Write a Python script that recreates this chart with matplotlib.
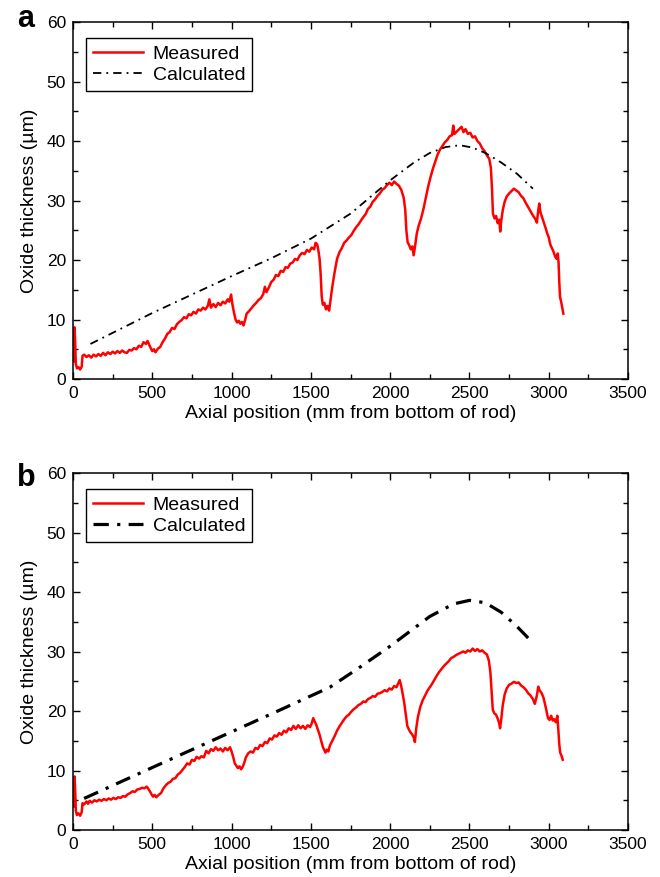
import numpy as np
import matplotlib.pyplot as plt
from matplotlib.ticker import MultipleLocator

plt.rcParams['font.family'] = ['Liberation Sans', 'DejaVu Sans']

# --- rod a: measured oxide profile (axial position mm, thickness um) ---
meas_a = [
    (5, 3.0), (10, 8.7), (14, 6.0), (18, 2.5), (25, 1.8), (35, 2.0), (45, 1.6), (55, 2.1),
    (60, 3.9), (70, 4.1), (85, 3.7), (100, 4.0), (115, 3.6), (130, 4.1), (145, 3.8), (160, 4.2),
    (175, 3.9), (190, 4.4), (205, 4.0), (220, 4.5), (235, 4.2), (250, 4.6), (265, 4.3), (280, 4.7),
    (295, 4.4), (310, 4.8), (325, 4.5), (340, 4.4), (355, 4.9), (370, 4.8), (385, 5.2), (400, 5.0),
    (415, 5.6), (430, 5.4), (445, 6.2), (460, 5.9), (470, 6.4), (480, 5.8), (490, 5.2), (500, 4.7),
    (510, 5.0), (520, 4.5), (535, 5.1), (550, 5.4), (565, 6.2), (580, 6.8), (595, 7.6), (610, 7.9),
    (625, 8.6), (640, 8.4), (655, 9.2), (670, 9.6), (685, 9.9), (700, 10.4), (715, 10.2), (730, 10.9),
    (745, 10.7), (760, 11.3), (775, 11.0), (790, 11.7), (805, 11.5), (820, 12.0), (835, 11.7), (850, 12.3),
    (860, 13.4), (870, 12.0), (885, 12.6), (900, 12.1), (915, 12.8), (930, 12.4), (945, 13.0), (960, 12.7),
    (975, 13.4), (985, 13.0), (997, 14.2), (1005, 12.6), (1015, 11.2), (1025, 10.0), (1035, 9.5), (1045, 9.8),
    (1055, 9.3), (1065, 9.6), (1075, 9.0), (1085, 9.9), (1095, 11.0), (1110, 11.4), (1125, 11.9), (1140, 12.4),
    (1155, 12.8), (1170, 13.3), (1185, 13.6), (1200, 14.3), (1210, 15.5), (1220, 14.6), (1235, 15.4), (1250, 16.3),
    (1265, 16.7), (1280, 17.5), (1295, 17.3), (1310, 18.2), (1325, 18.0), (1340, 18.8), (1355, 18.7), (1370, 19.4),
    (1385, 19.6), (1400, 20.2), (1415, 20.0), (1430, 20.8), (1445, 21.2), (1460, 21.0), (1475, 21.7), (1490, 21.4),
    (1505, 22.1), (1520, 21.8), (1530, 22.9), (1540, 22.6), (1548, 21.5), (1555, 20.2), (1562, 17.5), (1568, 14.0),
    (1575, 12.5), (1585, 12.8), (1595, 11.7), (1605, 12.3), (1615, 11.5), (1625, 13.5), (1635, 15.5), (1650, 18.0),
    (1665, 20.2), (1680, 21.3), (1695, 22.0), (1710, 22.9), (1725, 23.3), (1740, 23.8), (1755, 24.2), (1770, 24.9),
    (1785, 25.5), (1800, 26.0), (1815, 26.6), (1830, 27.2), (1845, 27.7), (1860, 28.6), (1875, 29.0), (1890, 29.8),
    (1905, 30.2), (1920, 30.8), (1935, 31.2), (1950, 31.8), (1965, 32.1), (1980, 32.6), (1995, 33.0), (2010, 32.6),
    (2025, 33.2), (2040, 32.8), (2055, 32.5), (2070, 31.8), (2085, 30.5), (2095, 28.5), (2102, 25.0), (2110, 23.0),
    (2120, 22.5), (2130, 21.8), (2140, 22.3), (2148, 20.8), (2158, 22.5), (2168, 24.5), (2180, 25.8), (2195, 27.0),
    (2210, 28.6), (2225, 30.5), (2240, 32.4), (2255, 34.0), (2270, 35.4), (2285, 36.6), (2300, 37.8), (2315, 38.6),
    (2330, 39.2), (2345, 39.8), (2360, 40.2), (2375, 40.8), (2390, 41.0), (2398, 42.6), (2405, 41.2), (2420, 41.6),
    (2435, 42.0), (2450, 42.4), (2462, 41.5), (2475, 42.0), (2490, 41.2), (2505, 41.4), (2520, 40.6), (2535, 40.8),
    (2550, 40.0), (2565, 39.6), (2580, 38.8), (2595, 38.3), (2610, 37.6), (2625, 37.0), (2635, 35.5), (2642, 32.0),
    (2648, 27.8), (2658, 27.0), (2668, 27.4), (2678, 26.2), (2688, 26.8), (2694, 24.8), (2700, 26.5), (2710, 28.4),
    (2722, 29.8), (2735, 30.7), (2750, 31.2), (2765, 31.6), (2780, 32.0), (2795, 31.7), (2810, 31.4), (2825, 30.8),
    (2840, 30.4), (2855, 29.6), (2870, 28.9), (2885, 28.2), (2900, 27.5), (2915, 26.9), (2925, 26.3), (2933, 28.2),
    (2940, 29.5), (2948, 28.0), (2958, 27.2), (2970, 26.2), (2980, 25.4), (2990, 24.5), (3000, 23.8), (3010, 22.6),
    (3020, 22.0), (3030, 21.4), (3040, 20.6), (3050, 20.2), (3057, 21.1), (3062, 19.5), (3066, 16.5), (3071, 13.8),
    (3078, 13.0), (3085, 12.0), (3092, 11.0),
]

calc_a = [
    (110, 5.9), (500, 11.1), (1000, 17.3), (1250, 20.3), (1500, 23.6), (1750, 27.8), (2000, 33.4),
    (2150, 36.4), (2250, 38.0), (2350, 39.0), (2440, 39.3), (2520, 38.9), (2600, 38.0), (2700, 36.4),
    (2800, 34.5), (2900, 32.0),
]

# --- rod b ---
meas_b = [
    (5, 4.0), (10, 9.0), (14, 6.5), (18, 3.2), (25, 2.5), (35, 2.8), (45, 2.4), (55, 3.0),
    (60, 4.5), (70, 4.3), (85, 4.8), (95, 4.4), (105, 4.9), (120, 4.6), (135, 5.0), (150, 4.8),
    (165, 5.1), (180, 4.9), (195, 5.2), (210, 5.0), (225, 5.3), (240, 5.1), (255, 5.4), (270, 5.2),
    (285, 5.5), (300, 5.4), (315, 5.7), (330, 5.6), (345, 6.0), (360, 6.2), (375, 6.5), (390, 6.4),
    (405, 6.8), (420, 6.9), (435, 7.1), (450, 7.0), (465, 7.3), (475, 6.9), (485, 6.5), (495, 6.0),
    (505, 5.6), (515, 5.9), (525, 5.5), (540, 5.9), (555, 6.2), (570, 7.0), (585, 7.5), (600, 7.9),
    (615, 8.1), (630, 8.6), (645, 8.7), (660, 9.3), (675, 9.6), (690, 10.1), (705, 10.6), (720, 11.2),
    (735, 11.0), (750, 11.8), (765, 11.6), (780, 12.3), (795, 12.0), (810, 12.4), (825, 12.2), (840, 13.3),
    (855, 12.9), (870, 13.6), (885, 13.3), (900, 13.9), (915, 13.4), (930, 13.7), (945, 13.2), (960, 13.8),
    (975, 13.4), (990, 13.9), (1000, 13.2), (1010, 12.3), (1020, 11.2), (1030, 10.8), (1040, 10.4), (1050, 10.7),
    (1060, 10.2), (1070, 10.6), (1080, 11.3), (1090, 12.2), (1105, 12.9), (1120, 13.2), (1135, 13.0), (1150, 13.8),
    (1165, 13.6), (1180, 14.3), (1195, 14.1), (1210, 14.8), (1225, 14.6), (1240, 15.4), (1255, 15.2), (1270, 15.9),
    (1285, 15.7), (1300, 16.3), (1315, 16.0), (1330, 16.7), (1345, 16.4), (1360, 17.1), (1375, 16.8), (1390, 17.5),
    (1405, 17.0), (1420, 17.6), (1435, 17.1), (1450, 17.5), (1465, 17.0), (1480, 17.6), (1495, 17.3), (1505, 17.9),
    (1515, 18.8), (1525, 18.2), (1535, 17.6), (1545, 16.8), (1555, 16.0), (1565, 15.0), (1575, 14.0), (1585, 13.4),
    (1592, 13.0), (1600, 13.5), (1610, 13.2), (1620, 14.2), (1635, 15.0), (1650, 15.8), (1665, 16.7), (1680, 17.4),
    (1695, 18.0), (1710, 18.6), (1725, 19.1), (1740, 19.4), (1755, 19.9), (1770, 20.3), (1785, 20.6), (1800, 21.0),
    (1815, 21.2), (1830, 21.6), (1845, 21.5), (1860, 22.0), (1875, 22.2), (1890, 22.5), (1905, 22.4), (1920, 22.9),
    (1935, 23.0), (1950, 23.2), (1965, 23.5), (1980, 23.3), (1995, 23.8), (2010, 23.6), (2025, 24.2), (2040, 24.0),
    (2050, 24.6), (2060, 25.2), (2068, 24.4), (2078, 23.0), (2088, 21.5), (2098, 19.5), (2108, 17.5), (2118, 16.9),
    (2128, 16.4), (2138, 16.1), (2148, 15.6), (2156, 14.8), (2164, 17.0), (2175, 19.0), (2190, 20.7), (2205, 21.8),
    (2220, 22.6), (2235, 23.4), (2250, 24.0), (2265, 24.6), (2280, 25.3), (2295, 26.0), (2310, 26.6), (2325, 27.1),
    (2340, 27.6), (2355, 28.0), (2370, 28.4), (2385, 28.9), (2400, 29.1), (2415, 29.4), (2430, 29.6), (2445, 29.8),
    (2460, 30.0), (2475, 29.8), (2490, 30.2), (2505, 30.0), (2520, 30.5), (2535, 30.1), (2550, 30.4), (2565, 30.0),
    (2580, 30.2), (2595, 29.8), (2610, 29.5), (2622, 28.5), (2632, 26.5), (2640, 23.0), (2647, 20.2), (2657, 19.6),
    (2667, 19.4), (2677, 18.8), (2687, 18.0), (2693, 17.1), (2700, 18.5), (2710, 21.0), (2722, 22.8), (2735, 23.8),
    (2750, 24.4), (2765, 24.6), (2780, 24.9), (2795, 24.7), (2810, 24.8), (2825, 24.3), (2840, 24.0), (2855, 23.6),
    (2870, 23.0), (2885, 22.6), (2900, 22.0), (2912, 21.2), (2925, 22.6), (2934, 24.1), (2942, 23.5), (2955, 23.0),
    (2966, 22.3), (2976, 21.2), (2986, 20.0), (2995, 18.8), (3005, 18.5), (3015, 19.2), (3025, 18.4), (3035, 18.6),
    (3045, 18.1), (3054, 19.2), (3060, 17.0), (3066, 14.5), (3072, 13.0), (3080, 12.5), (3088, 11.8),
]

calc_b = [
    (70, 5.3), (500, 10.5), (1000, 16.5), (1250, 19.5), (1620, 24.0), (1800, 27.2), (2000, 30.9),
    (2150, 33.9), (2250, 35.9), (2400, 38.0), (2500, 38.6), (2600, 38.2), (2700, 36.6), (2800, 34.2),
    (2880, 32.0),
]

panels = [
    ('a', meas_a, calc_a, 1.3, [4.6, 2.8, 1.0, 2.8]),
    ('b', meas_b, calc_b, 2.3, [4.8, 2.6, 1.0, 2.6]),
]

fig = plt.figure(figsize=(6.6, 8.77), dpi=100)
axes_pos = [[0.1106, 0.5678, 0.841, 0.407], [0.1106, 0.0536, 0.841, 0.407]]
label_y = [1 - 27 / 877, 1 - 486 / 877]

for (tag, meas, calc, calc_lw, calc_dash), pos, ly in zip(panels, axes_pos, label_y):
    ax = fig.add_axes(pos)
    mx, my = np.array(meas).T
    cx, cy = np.array(calc).T
    ax.plot(mx, my, color='#ff0000', lw=1.8, label='Measured')
    ax.plot(cx, cy, color='black', lw=calc_lw, dashes=calc_dash, label='Calculated')

    ax.set_xlim(0, 3500)
    ax.set_ylim(0, 60)
    ax.xaxis.set_major_locator(MultipleLocator(500))
    ax.xaxis.set_minor_locator(MultipleLocator(250))
    ax.yaxis.set_major_locator(MultipleLocator(10))
    ax.yaxis.set_minor_locator(MultipleLocator(5))
    ax.tick_params(which='both', direction='in', top=True, right=True, width=1.0,
                   labelsize=12.5, pad=5)
    ax.tick_params(which='major', length=5)
    ax.tick_params(which='minor', length=3.5)
    for sp in ax.spines.values():
        sp.set_linewidth(1.1)

    ax.set_xlabel('Axial position (mm from bottom of rod)', fontsize=14, labelpad=3)
    ax.set_ylabel('Oxide thickness (µm)', fontsize=14, labelpad=6)

    leg = ax.legend(loc='upper left', bbox_to_anchor=(0.023, 0.955), borderaxespad=0,
                    fontsize=14, frameon=True, fancybox=False, edgecolor='black',
                    framealpha=1, handlelength=2.6, handletextpad=0.5, borderpad=0.35,
                    labelspacing=0.2)
    leg.get_frame().set_linewidth(1.0)

    fig.text(17 / 660, ly, tag, fontsize=22, fontweight='bold', va='baseline', ha='left')

fig.savefig('out.png', dpi=100)
